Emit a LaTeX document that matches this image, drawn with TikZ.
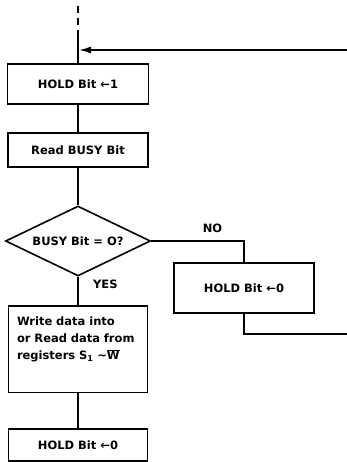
\documentclass[tikz,border=0pt]{standalone}
\usepackage{fontspec}
\setmainfont{DejaVu Sans}
\usetikzlibrary{shapes.geometric,arrows.meta}

\tikzset{
    box/.style={draw, line width=1.6pt, rectangle, inner sep=0pt},
    decision/.style={draw, line width=1.6pt, diamond, aspect=2, inner sep=0pt,
        minimum width=145pt, minimum height=70pt},
    flow/.style={line width=1.6pt},
}

\begin{document}
\begin{tikzpicture}[x=1pt, y=-1pt, font=\bfseries\fontsize{11.5}{17}\selectfont]
    \useasboundingbox (0,0) rectangle (347,462);

    \coordinate (entry) at (78,6);
    \coordinate (dashend) at (78,32);
    \coordinate (merge) at (79,50);
    \coordinate (retin) at (347,50);
    \coordinate (retout) at (347,334);

    \node[box, minimum width=141pt, minimum height=40pt] (hold1) at (78,84) {HOLD Bit ←1};
    \node[box, minimum width=140pt, minimum height=34pt] (readbusy) at (78,150) {Read BUSY Bit};
    \node[decision] (busy) at (78,241) {BUSY Bit = O?};
    \node[box, minimum width=140pt, minimum height=50pt] (hold0) at (244,288) {HOLD Bit ←0};
    \node[box, anchor=north, text width=122pt, align=left, inner xsep=8.5pt, inner ysep=11pt,
        text depth=56pt] (write) at (78,305)
        {Write data into\\or Read data from\\registers S\textsubscript{1} \textasciitilde$\overline{\mbox{W}}$};
    \node[box, minimum width=139pt, minimum height=32pt] (hold2) at (78,445) {HOLD Bit ←0};

    \draw[flow, dash pattern=on 7pt off 5pt] (entry) -- (dashend);
    \draw[flow] (dashend) -- (hold1);
    \draw[flow, -{Latex[length=12pt,width=7pt]}] (retin) -- (merge);
    \draw[flow] (hold1) -- (readbusy);
    \draw[flow] (readbusy) -- (busy);
    \draw[flow] (busy) -- node[pos=0.27, right=11pt] (yes) {YES} (write);
    \draw[flow] (busy.east) -| node[pos=0.33, above=4pt] (no) {NO} (hold0);
    \draw[flow] (hold0) |- (retout);
    \draw[flow] (write) -- (hold2);
\end{tikzpicture}
\end{document}
